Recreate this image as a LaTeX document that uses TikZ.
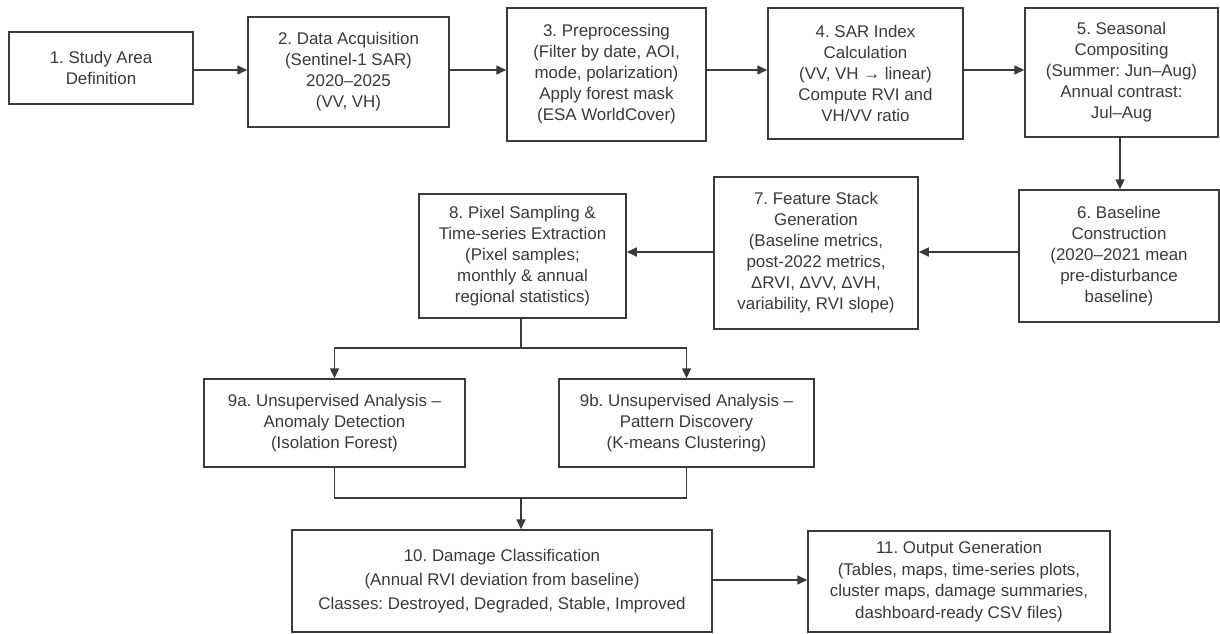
\documentclass[tikz,border=0pt]{standalone}
\usepackage{fontspec}
\setmainfont{Liberation Sans}
\usetikzlibrary{arrows.meta}
\frenchspacing
\definecolor{ink}{HTML}{3A3A3A}
\tikzset{
  box/.style={draw=ink, line width=1.5pt, fill=white, align=center, inner sep=2pt,
    font=\fontsize{16.9}{21}\selectfont, text=ink},
  arr/.style={draw=ink, line width=1.5pt, -{Triangle[length=10pt,width=9pt]}},
  ln/.style={draw=ink, line width=1.5pt},
}
\begin{document}
\begin{tikzpicture}[x=1pt,y=-1pt]
\useasboundingbox (0,0) rectangle (1220,633);
% top row
\node[box, minimum width=184pt, minimum height=72pt] (n1) at (101,68) {1. Study Area\\Definition};
\node[box, minimum width=201pt, minimum height=110pt] (n2) at (348.5,72) {2. Data Acquisition\\(Sentinel-1 SAR)\\2020–2025\\(VV, VH)};
\node[box, minimum width=199pt, minimum height=133pt] (n3) at (606.5,74.5) {3. Preprocessing\\(Filter by date, AOI,\\mode, polarization)\\Apply forest mask\\(ESA WorldCover)};
\node[box, minimum width=195pt, minimum height=131pt] (n4) at (865.5,73.5) {4. SAR Index\\Calculation\\(VV, VH → linear)\\Compute RVI and\\VH/VV ratio};
\node[box, minimum width=193pt, minimum height=129pt] (n5) at (1121.5,72.5) {5. Seasonal\\Compositing\\(Summer: Jun–Aug)\\Annual contrast:\\Jul–Aug};
% second row
\node[box, minimum width=200pt, minimum height=132pt] (n6) at (1119,256) {6. Baseline\\Construction\\(2020–2021 mean\\pre-disturbance\\baseline)};
\node[box, minimum width=204pt, minimum height=152pt] (n7) at (816,253) {7. Feature Stack\\Generation\\(Baseline metrics,\\post-2022 metrics,\\ΔRVI, ΔVV, ΔVH,\\variability, RVI slope)};
\node[box, minimum width=207pt, minimum height=124pt] (n8) at (522.5,256) {8. Pixel Sampling \&\\Time-series Extraction\\(Pixel samples;\\monthly \& annual\\regional statistics)};
% third row
\node[box, minimum width=261pt, minimum height=88pt] (n9a) at (334.5,423) {9a. Unsupervised Analysis –\\Anomaly Detection\\(Isolation Forest)};
\node[box, minimum width=255pt, minimum height=88pt] (n9b) at (686.5,423) {9b. Unsupervised Analysis –\\Pattern Discovery\\(K-means Clustering)};
% bottom row
\node[box, minimum width=420pt, minimum height=102pt, font=\fontsize{16.9}{24}\selectfont] (n10) at (502,581) {10. Damage Classification\\(Annual RVI deviation from baseline)\\Classes: Destroyed, Degraded, Stable, Improved};
\node[box, minimum width=302pt, minimum height=101pt, font=\fontsize{16.9}{21.7}\selectfont] (n11) at (959,581.5) {11. Output Generation\\(Tables, maps, time-series plots,\\cluster maps, damage summaries,\\dashboard-ready CSV files)};
% junction coordinates
\coordinate (s8) at (521,348);
\coordinate (m9) at (521,498);
% connectors top row
\draw[arr] (n1.east |- 0,70) -- (n2.west |- 0,70);
\draw[arr] (n2.east |- 0,70) -- (n3.west |- 0,70);
\draw[arr] (n3.east |- 0,70) -- (n4.west |- 0,70);
\draw[arr] (n4.east |- 0,70) -- (n5.west |- 0,70);
\draw[arr] (1120,0 |- n5.south) -- (1120,0 |- n6.north);
% second row
\draw[arr] (n6.west |- 0,252) -- (n7.east |- 0,252);
\draw[arr] (n7.west |- 0,252) -- (n8.east |- 0,252);
% branch
\draw[ln] (s8 |- n8.south) -- (s8);
\draw[arr] (s8) -| (n9a.north);
\draw[arr] (s8) -| (n9b.north);
% merge
\draw[ln] (n9a.south) |- (m9);
\draw[ln] (n9b.south) |- (m9);
\draw[arr] (m9) -- (m9 |- n10.north);
% bottom
\draw[arr] (n10.east |- 0,580) -- (n11.west |- 0,580);
\end{tikzpicture}
\end{document}
